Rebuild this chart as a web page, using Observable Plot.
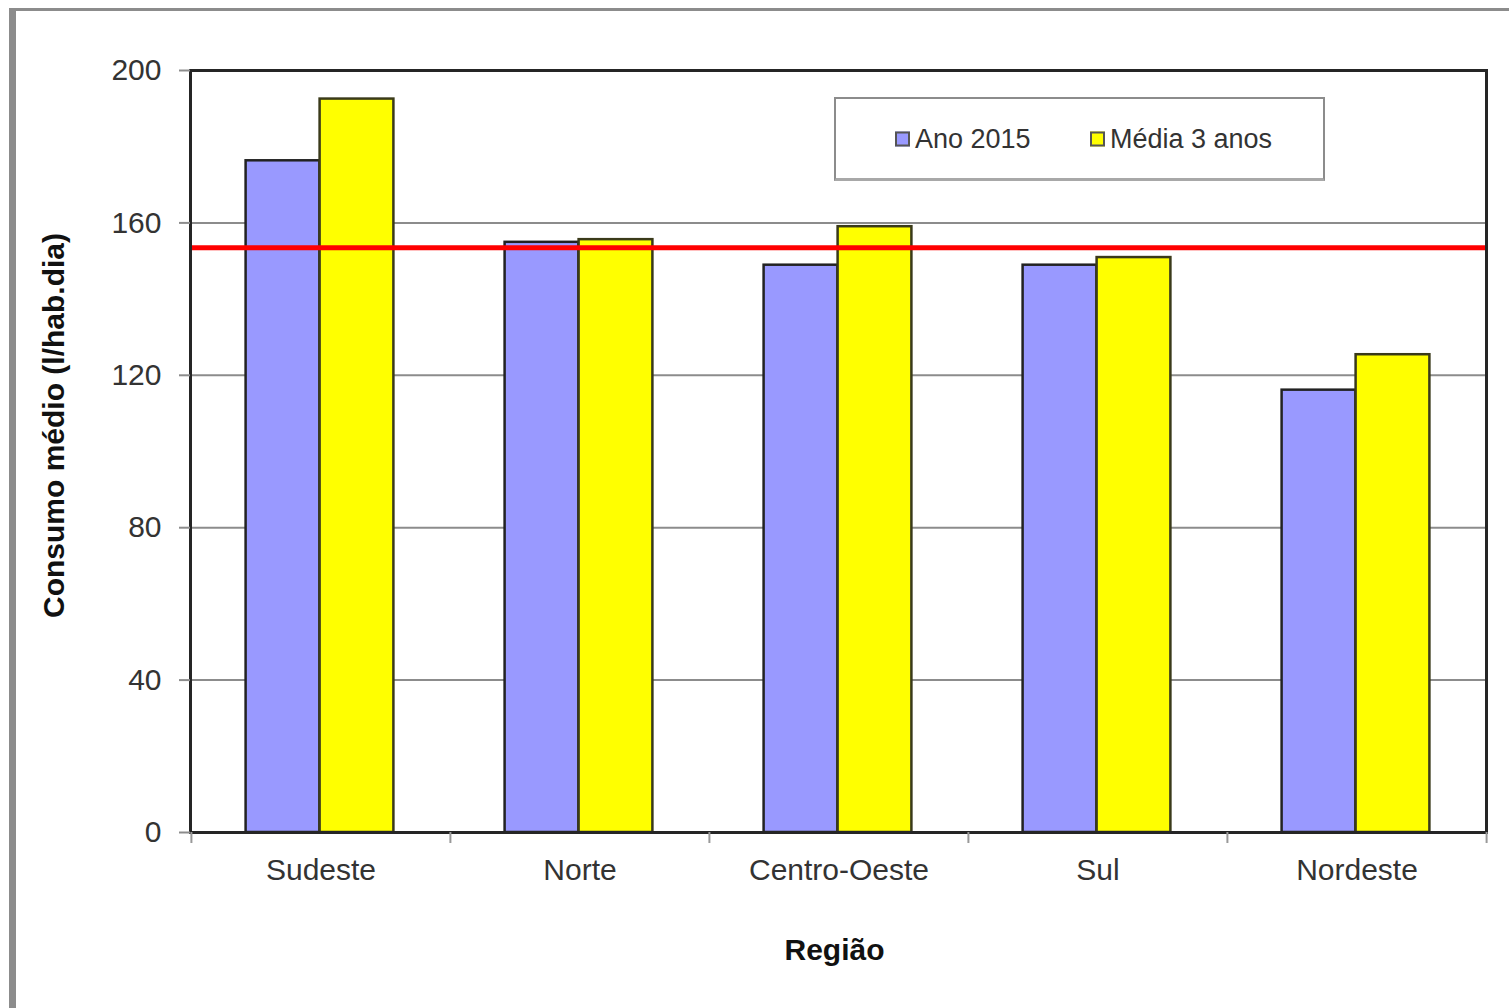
<!DOCTYPE html>
<html>
<head>
<meta charset="utf-8">
<script src="https://cdn.jsdelivr.net/npm/d3@7"></script>
<script src="https://cdn.jsdelivr.net/npm/@observablehq/plot@0.6"></script>
<style>
  body { margin: 0; background: #fff; font-family: "Liberation Sans", Arial, sans-serif; }
  #wrap { position: relative; width: 1509px; height: 1008px; overflow: hidden; background: #fff; }
  #chart { position: absolute; left: 0; top: 0; }
  #frame { position: absolute; left: 9px; top: 8px; width: 1600px; height: 1100px; box-sizing: border-box;
           border-left: 7px solid #8c8c8c; border-top: 3px solid #8c8c8c; pointer-events: none; }
  #legend { position: absolute; left: 834px; top: 97px; width: 491px; height: 84px; box-sizing: border-box;
            border: 2px solid #8c8c8c; border-bottom: 3px solid #a8a8a8; background: #fff; }
  .item { position: absolute; top: 40px; transform: translateY(-50%); display: flex; align-items: center;
          font-size: 27px; color: #333; white-space: nowrap; }
  .sw { width: 11px; height: 11px; border: 2px solid #555; margin-right: 5px; }
</style>
</head>
<body>
<div id="wrap">
  <div id="chart"></div>
  <div id="legend"></div>
  <div id="frame"></div>
</div>
<script>
// ---- data ----
const regions = ["Sudeste", "Norte", "Centro-Oeste", "Sul", "Nordeste"];
const ano2015 = [176.3, 154.9, 148.9, 148.9, 116.1];
const media3anos = [192.5, 155.6, 159.0, 150.9, 125.4];
const mediaNacional = 153.5;
const yTicks = [0, 40, 80, 120, 160, 200];
const seriesNames = ["Ano 2015", "Média 3 anos"];
const seriesColors = ["#9999ff", "#ffff00"];
const yLabel = "Consumo médio (l/hab.dia)";
const xLabel = "Região";

// ---- layout ----
const W = 1509, H = 1008, mL = 190, mR = 23, mT = 70, mB = 176;
const band = (W - mL - mR) / regions.length;
const barW = 74;

const rows2015 = regions.map((r, i) => ({regiao: r, valor: ano2015[i]}));
const rowsMedia = regions.map((r, i) => ({regiao: r, valor: media3anos[i]}));

const chart = Plot.plot({
  width: W, height: H,
  marginLeft: mL, marginRight: mR, marginTop: mT, marginBottom: mB,
  style: {background: "transparent", fontFamily: "'Liberation Sans', Arial, sans-serif", fontSize: "30px", color: "#333"},
  x: {domain: regions, padding: 0},
  y: {domain: [0, 200]},
  marks: [
    Plot.ruleY(yTicks.slice(1, -1), {stroke: "#8c8c8c", strokeWidth: 2}),
    Plot.barY(rows2015, {x: "regiao", y: "valor", fill: seriesColors[0], stroke: "#222", strokeWidth: 2.5,
      insetLeft: band / 2 - barW - 1, insetRight: band / 2 + 1}),
    Plot.barY(rowsMedia, {x: "regiao", y: "valor", fill: seriesColors[1], stroke: "#3a3a1a", strokeWidth: 2.5,
      insetLeft: band / 2 - 1, insetRight: band / 2 - barW + 1}),
    Plot.ruleY([mediaNacional], {stroke: "#ff0000", strokeWidth: 5}),
    Plot.frame({stroke: "#252525", strokeWidth: 3}),
    Plot.axisY({ticks: yTicks, tickSize: 11, tickPadding: 18, stroke: "#8c8c8c", strokeWidth: 2, fill: "#333", label: null}),
    Plot.axisX({tickSize: 0, tickPadding: 26, fill: "#333", label: null}),
    Plot.axisX({tickSize: 11, tickFormat: () => "", dx: -band / 2, stroke: "#999", strokeWidth: 2, label: null}),
    Plot.axisX({ticks: [regions[regions.length - 1]], tickSize: 11, tickFormat: () => "", dx: band / 2, stroke: "#999", strokeWidth: 2, label: null}),
    Plot.text([yLabel], {text: d => d, frameAnchor: "left", textAnchor: "middle", dx: -136, dy: -26, rotate: -90, fontWeight: "bold", fontSize: 30, fill: "#111"}),
    Plot.text([xLabel], {text: d => d, frameAnchor: "bottom", dx: -4, dy: 127, fontWeight: "bold", fontSize: 30, fill: "#111"})
  ]
});
document.getElementById("chart").appendChild(chart);

// ---- legend ----
const legend = document.getElementById("legend");
const itemLeft = [59, 254];
seriesNames.forEach((name, i) => {
  const it = document.createElement("div");
  it.className = "item";
  it.style.left = itemLeft[i] + "px";
  const sw = document.createElement("div");
  sw.className = "sw";
  sw.style.background = seriesColors[i];
  const tx = document.createElement("span");
  tx.textContent = name;
  it.appendChild(sw);
  it.appendChild(tx);
  legend.appendChild(it);
});
</script>
</body>
</html>
